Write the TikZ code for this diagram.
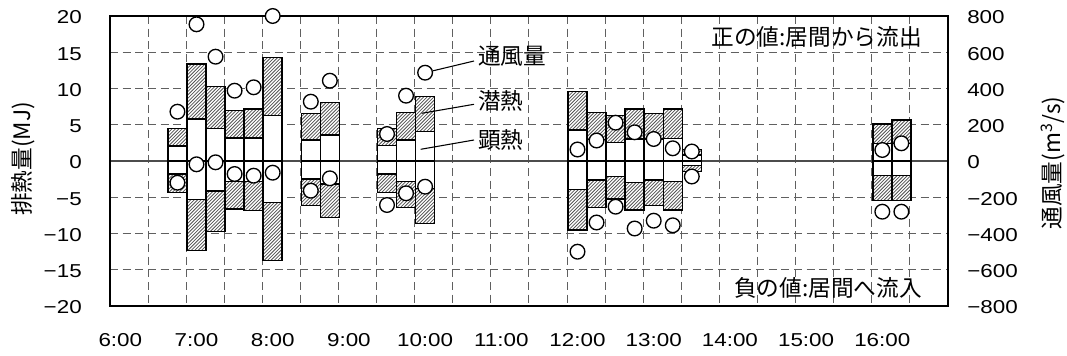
\documentclass[tikz,border=0pt]{standalone}
\usepackage{fontspec}
\usepackage{graphicx}
\setmainfont{Liberation Sans}
\newfontfamily\jpfont{Noto Sans CJK JP}
\newcommand\widenum[1]{\scalebox{1.2}[1]{#1}}
\tikzset{
  gridline/.style={draw=gray!75!black, line width=0.75pt, dash pattern=on 6pt off 3.5pt},
  zeroline/.style={draw=gray!60!black, line width=0.8pt},
  frameline/.style={draw=black, line width=1.1pt},
  barbox/.style={draw=black, line width=1.1pt, fill=white},
  hatchline/.style={draw=gray!65!black, line width=0.6pt},
  dot/.style={circle, draw=black, line width=1pt, fill=white, inner sep=0pt, minimum size=11pt},
  numlab/.style={font=\fontsize{14}{16}\selectfont, inner sep=0pt},
  jplab/.style={font=\jpfont\fontsize{17}{19}\selectfont, inner sep=0pt},
  leader/.style={draw=black, line width=0.8pt},
}
\newcommand\hatchrect[4]{% x1, y1, x2, y2
  \fill[white] (#1,#2) rectangle (#3,#4);
  \begin{scope}
    \clip (#1,#2) rectangle (#3,#4);
    \pgfmathsetmacro\hb{max(#2,#4)}
    \foreach \d in {-64,-60.6,...,24} \draw[hatchline] ({#1+\d},\hb) -- ++(70,-70);
  \end{scope}
  \draw[barbox, fill=none] (#1,#2) rectangle (#3,#4);
}
\begin{document}
\begin{tikzpicture}[x=0.75pt,y=-0.75pt]
\useasboundingbox (0,0) rectangle (1067,356);
% grid
\foreach \k in {1,...,21} \draw[gridline] ({110+38.09*\k},16) -- ({110+38.09*\k},306);
\foreach \k in {1,2,3,5,6,7} \draw[gridline] (110,{16+36.25*\k}) -- (948,{16+36.25*\k});
\draw[zeroline] (110,161) -- (948,161);
% bars
\foreach \ta/\pa/\pb/\na/\nb in {
 6.75/146/128.3/174/192.7, 7/119/64/199.3/250.7, 7.25/128.7/86.7/191/231.7,
 7.5/138/110.5/181.7/209, 7.75/138/109/181.7/210.7, 8/115.7/57.3/202.7/260.7,
 8.5/140/113.7/179/205.7, 8.75/135/102.7/184/217.3, 9.5/145.7/128.3/174/192.7,
 9.75/140/112.5/181.7/207.3, 10/131.7/96.7/188.3/223.3, 12/130/91.5/189.5/230,
 12.25/139.5/112.3/180/207.3, 12.5/142.7/115.7/176.7/199, 12.75/139/109/182.3/210,
 13/139/113.3/180/205.7, 13.25/138.3/109/181.7/210, 13.5/155/149.3/165.5/171.7,
 16/143.3/124/175.7/200.7, 16.25/143.3/120/175.7/200.7}{
  \pgfmathsetmacro\xa{196.5+76.2*(\ta-7)-9.525}
  \pgfmathsetmacro\xb{\xa+19.05}
  \draw[barbox] (\xa,161) rectangle (\xb,\pa);
  \hatchrect{\xa}{\pa}{\xb}{\pb}
  \draw[barbox] (\xa,161) rectangle (\xb,\na);
  \hatchrect{\xa}{\na}{\xb}{\nb}
}
% frame
\draw[frameline] (110,16) rectangle (948,306);
% circles
\foreach \ta/\ca/\cb [count=\i] in {
 6.75/111.7/182.7, 7/24.3/164.3, 7.25/56.7/162.3, 7.5/90.7/174, 7.75/87.3/175.7,
 8/16/172.7, 8.5/101.7/190.7, 8.75/80.7/178.3, 9.5/134/205, 9.75/95.7/193.3,
 10/72.7/186.7, 12/149.5/251.7, 12.25/140.5/222.5, 12.5/122.7/206.7,
 12.75/132.3/228.5, 13/139/220.7, 13.25/148.3/225.3, 13.5/151.5/176.5,
 16/150/211.7, 16.25/143.3/211.7}{
  \pgfmathsetmacro\xc{196.5+76.2*(\ta-7)}
  \node[dot] (cp\i) at (\xc,\ca) {};
  \node[dot] (cn\i) at (\xc,\cb) {};
}
% legend labels and leaders
\node[jplab, anchor=west] (lv) at (478,56) {通風量};
\node[jplab, anchor=west] (ll) at (478,101) {潜熱};
\node[jplab, anchor=west] (ls) at (478,140) {顕熱};
\coordinate (ev) at (474,61);
\coordinate (bl) at (421.7,113.3);
\coordinate (el) at (474,104.3);
\coordinate (bs) at (420.7,149.3);
\coordinate (es) at (474,140);
\draw[leader] (cp11) -- (ev);
\draw[leader] (bl) -- (el);
\draw[leader] (bs) -- (es);
% annotations
\node[jplab, anchor=east] (pos) at (922,36.7) {正の値:居間から流出};
\node[jplab, anchor=east] (neg) at (922,288.3) {負の値:居間へ流入};
% axis titles
\node[jplab, rotate=90] (ytl) at (23,159) {排熱量(MJ)};
\node[jplab, rotate=90] (ytr) at (1053,163) {通風量(m\textsuperscript{3}/s)};
% tick labels
\foreach \v [count=\k from 0] in {20,15,10,5,0,−5,−10,−15,−20}
  \node[numlab, anchor=east] (yl\k) at (82,{16+36.25*\k+1.5}) {\widenum{\v}};
\foreach \v [count=\k from 0] in {800,600,400,200,0,−200,−400,−600,−800}
  \node[numlab, anchor=west] (yr\k) at (967,{16+36.25*\k+1.5}) {\widenum{\v}};
\foreach \h [count=\k from 0] in {6,...,16}
  \node[numlab] (xl\k) at ({120.3+76.2*\k},340) {\widenum{\h:00}};
\end{tikzpicture}
\end{document}
